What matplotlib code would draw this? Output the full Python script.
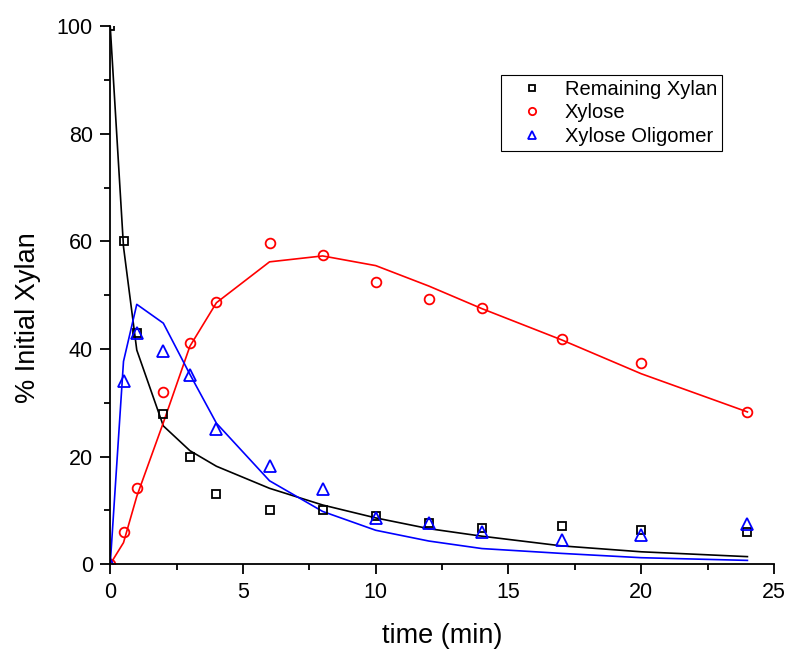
import matplotlib.pyplot as plt
import numpy as np

plt.rcParams['font.family'] = ['Liberation Sans', 'DejaVu Sans']

# measured data
t_data = [0, 0.5, 1, 2, 3, 4, 6, 8, 10, 12, 14, 17, 20, 24]
xylan = [100, 60, 43, 28, 20, 13, 10, 10, 9.0, 7.6, 6.7, 7.1, 6.3, 6.0]
xylose = [0, 6, 14.2, 32, 41.2, 48.7, 59.7, 57.4, 52.4, 49.3, 47.6, 41.8, 37.4, 28.3]
oligomer = [0, 34, 43, 39.6, 35.1, 25.1, 18.3, 13.9, 8.5, 7.6, 6.0, 4.5, 5.5, 7.5]

# model curves
xylan_fit = [100, 59, 39.8, 25.7, 21.1, 18.2, 14.1, 11.0, 8.6, 6.6, 5.2, 3.4, 2.3, 1.4]
xylose_fit = [0, 4.0, 12.6, 26.3, 40.5, 48.6, 56.2, 57.3, 55.5, 51.7, 47.5, 41.7, 35.4, 28.3]
oligomer_fit = [0, 37.7, 48.3, 44.8, 35.3, 26.2, 15.5, 9.8, 6.3, 4.3, 2.9, 2.0, 1.2, 0.7]

fig = plt.figure(figsize=(7.93, 6.56), dpi=100)
ax = fig.add_axes([0.139, 0.140, 0.837, 0.820])

ax.plot(t_data, xylan_fit, '-', color='black', lw=1.2)
ax.plot(t_data, xylose_fit, '-', color='red', lw=1.2)
ax.plot(t_data, oligomer_fit, '-', color='blue', lw=1.2)

ax.plot(t_data, xylan, 's', mfc='none', mec='black', mew=1.3, ms=6, label='Remaining Xylan')
ax.plot(t_data, xylose, 'o', mfc='none', mec='red', mew=1.3, ms=7, label='Xylose')
ax.plot(t_data, oligomer, '^', mfc='none', mec='blue', mew=1.3, ms=8, label='Xylose Oligomer')

ax.set_xlim(0, 25)
ax.set_ylim(0, 100)
ax.set_xticks(np.arange(0, 26, 5))
ax.set_xticks(np.arange(0, 25.1, 2.5), minor=True)
ax.set_yticks(np.arange(0, 101, 20))
ax.set_yticks(np.arange(0, 101, 10), minor=True)
ax.tick_params(which='major', length=7.5, width=1.3, labelsize=15.5, direction='out', pad=5)
ax.tick_params(which='minor', length=4, width=1.3, direction='out')
ax.spines['top'].set_visible(False)
ax.spines['right'].set_visible(False)
ax.spines['left'].set_linewidth(1.3)
ax.spines['bottom'].set_linewidth(1.3)

ax.set_xlabel('time (min)', fontsize=19.5)
ax.set_ylabel('% Initial Xylan', fontsize=19.5)
ax.xaxis.set_label_coords(0.5, -0.11)
ax.yaxis.set_label_coords(-0.104, 0.459)

leg = ax.legend(loc='upper right', bbox_to_anchor=(0.9217, 0.9098), borderaxespad=0,
                fontsize=14.5, fancybox=False, edgecolor='black', framealpha=1,
                handlelength=2.6, handletextpad=0.3, borderpad=0.25,
                labelspacing=0.22, markerscale=0.75)
leg.get_frame().set_linewidth(0.8)

fig.savefig('out.png')
